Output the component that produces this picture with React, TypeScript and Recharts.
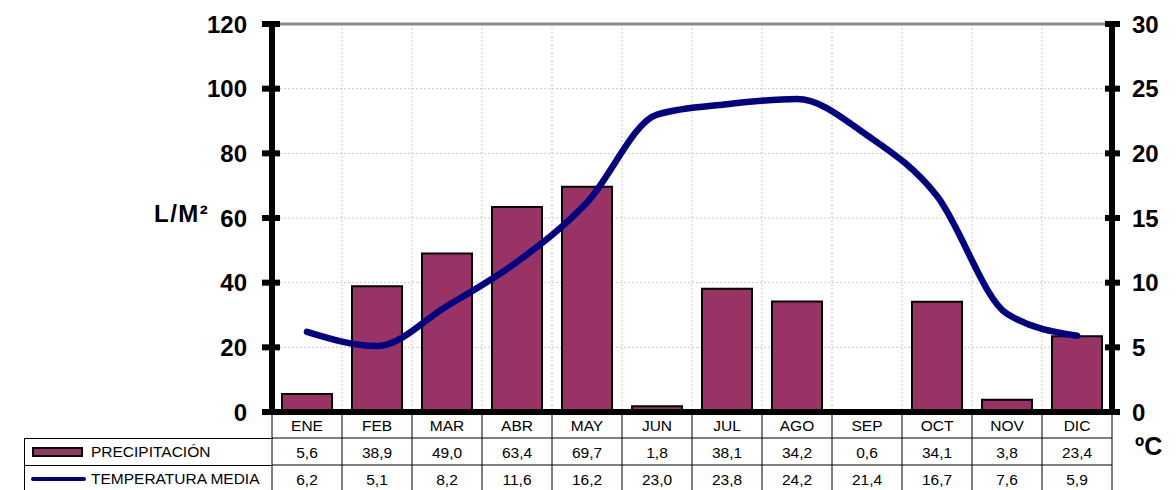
import React from "react";
import {
  ComposedChart,
  Bar,
  Line,
  XAxis,
  YAxis,
  CartesianGrid,
  ReferenceLine,
} from "recharts";

const months = ["ENE", "FEB", "MAR", "ABR", "MAY", "JUN", "JUL", "AGO", "SEP", "OCT", "NOV", "DIC"];
const precipitation = [5.6, 38.9, 49.0, 63.4, 69.7, 1.8, 38.1, 34.2, 0.6, 34.1, 3.8, 23.4];
const temperature = [6.2, 5.1, 8.2, 11.6, 16.2, 23.0, 23.8, 24.2, 21.4, 16.7, 7.6, 5.9];
const leftTicks = [0, 20, 40, 60, 80, 100, 120];
const rightTicks = [0, 5, 10, 15, 20, 25, 30];

const data = months.map((m, i) => ({ month: m, precip: precipitation[i], temp: temperature[i] }));

const FONT = "'Liberation Sans', Arial, sans-serif";
const fmt = (v: number) => v.toFixed(1).replace(".", ",");

const LeftTick = (props: any) => {
  const { x, y, payload } = props;
  const ax = x + 25;
  return (
    <g>
      <rect x={ax - 10} y={y - 3} width={18} height={6} fill="#000" />
      <text x={x} y={y} textAnchor="end" dominantBaseline="central" fontFamily={FONT} fontWeight="bold" fontSize={24} fill="#000">
        {payload.value}
      </text>
    </g>
  );
};

const RightTick = (props: any) => {
  const { x, y, payload } = props;
  const ax = x - 20;
  return (
    <g>
      <rect x={ax - 7} y={y - 3} width={15} height={6} fill="#000" />
      <text x={x} y={y} textAnchor="start" dominantBaseline="central" fontFamily={FONT} fontWeight="bold" fontSize={24} fill="#000">
        {payload.value}
      </text>
    </g>
  );
};

const TableTick = (props: any) => {
  const { x, y, payload, index, width } = props;
  const cw = (width || 840) / months.length;
  const l = x - cw / 2;
  const r = x + cw / 2;
  const i = typeof index === "number" ? index : months.indexOf(payload.value);
  return (
    <g>
      {i === 0 && <line x1={l} x2={l} y1={y} y2={y + 78} stroke="#000" strokeWidth={1} />}
      <line x1={r} x2={r} y1={y} y2={y + 78} stroke="#000" strokeWidth={1} />
      <line x1={l} x2={r} y1={y + 26} y2={y + 26} stroke="#000" strokeWidth={1} />
      <line x1={l} x2={r} y1={y + 53} y2={y + 53} stroke="#000" strokeWidth={1} />
      <text x={x} y={y + 13} textAnchor="middle" dominantBaseline="central" fontFamily={FONT} fontSize={15.5} fill="#000">
        {payload.value}
      </text>
      <text x={x} y={y + 40} textAnchor="middle" dominantBaseline="central" fontFamily={FONT} fontSize={15.5} fill="#000">
        {fmt(precipitation[i])}
      </text>
      <text x={x} y={y + 67} textAnchor="middle" dominantBaseline="central" fontFamily={FONT} fontSize={15.5} fill="#000">
        {fmt(temperature[i])}
      </text>
    </g>
  );
};

const vGen = (p: any) => {
  const off = p.offset;
  const out: number[] = [];
  for (let i = 1; i < months.length; i++) out.push(off.left + (i * off.width) / months.length);
  return out;
};

export default function App() {
  return (
    <div style={{ position: "fixed", left: 0, top: 0, width: 1176, height: 490, background: "#fff", overflow: "hidden" }}>
      <ComposedChart
        width={1176}
        height={490}
        data={data}
        margin={{ top: 24, right: 0, bottom: 0, left: 212 }}
        barCategoryGap={20}
      >
        <CartesianGrid
          yAxisId="left"
          stroke="#c8c8c8"
          strokeDasharray="2 2"
          verticalCoordinatesGenerator={vGen}
        />
        <ReferenceLine yAxisId="left" y={120} stroke="#8a8a8a" strokeWidth={3} />
        <XAxis
          dataKey="month"
          height={78}
          tickSize={0}
          tickMargin={0}
          interval={0}
          axisLine={{ stroke: "#000", strokeWidth: 6 }}
          tick={<TableTick />}
        />
        <YAxis
          yAxisId="left"
          width={60}
          domain={[0, 120]}
          ticks={leftTicks}
          tickSize={0}
          tickMargin={25}
          axisLine={{ stroke: "#000", strokeWidth: 6 }}
          tick={<LeftTick />}
        />
        <YAxis
          yAxisId="right"
          orientation="right"
          width={64}
          domain={[0, 30]}
          ticks={rightTicks}
          tickSize={0}
          tickMargin={20}
          axisLine={{ stroke: "#000", strokeWidth: 6 }}
          tick={<RightTick />}
        />
        <Bar
          yAxisId="left"
          dataKey="precip"
          fill="#993366"
          stroke="#000"
          strokeWidth={2}
          barSize={50}
          isAnimationActive={false}
        />
        <Line
          yAxisId="right"
          dataKey="temp"
          type="monotone"
          stroke="#000080"
          strokeWidth={6.5}
          strokeLinecap="round"
          dot={false}
          activeDot={false}
          isAnimationActive={false}
        />
      </ComposedChart>

      <div style={{ position: "absolute", left: 154, top: 201, fontFamily: FONT, fontWeight: "bold", fontSize: 24, lineHeight: "26px", letterSpacing: 1.5, color: "#000" }}>
        L/M²
      </div>
      <div style={{ position: "absolute", left: 1135, top: 433, fontFamily: FONT, fontWeight: "bold", fontSize: 25, lineHeight: "26px", color: "#000" }}>
        ºC
      </div>

      <div style={{ position: "absolute", left: 24, top: 438, width: 248, height: 60, borderLeft: "1px solid #000", borderTop: "1px solid #000" }} />
      <div style={{ position: "absolute", left: 24, top: 465, width: 248, height: 0, borderTop: "1px solid #000" }} />

      <div style={{ position: "absolute", left: 32, top: 447, width: 47, height: 6, background: "#993366", border: "2px solid #000" }} />
      <div style={{ position: "absolute", left: 91, top: 443, fontFamily: FONT, fontSize: 15.5, lineHeight: "18px", color: "#000" }}>
        PRECIPITACIÓN
      </div>
      <div style={{ position: "absolute", left: 31, top: 477, width: 55, height: 4, background: "#000080", borderRadius: 2 }} />
      <div style={{ position: "absolute", left: 91, top: 470, fontFamily: FONT, fontSize: 15.5, lineHeight: "18px", color: "#000" }}>
        TEMPERATURA MEDIA
      </div>
    </div>
  );
}
